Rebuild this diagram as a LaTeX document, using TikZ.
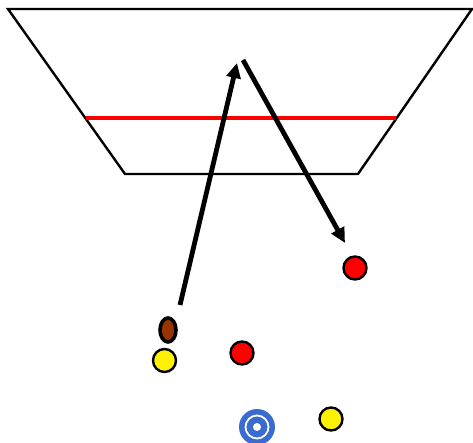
\documentclass[tikz,border=0pt]{standalone}
\usetikzlibrary{arrows.meta,shapes.geometric}
\definecolor{brownball}{HTML}{993300}
\definecolor{targetblue}{HTML}{3A6BD0}
\begin{document}
\begin{tikzpicture}[x=1pt,y=-1pt,
  outline/.style={draw=black,line width=2.4pt,line join=miter},
  move/.style={line width=4.8pt,-{Triangle[length=15pt,width=14pt]}},
  disc/.style={circle,draw=black,line width=2.4pt,minimum size=23pt,inner sep=0pt},
  reddisc/.style={disc,fill=red},
  yellowdisc/.style={disc,fill=yellow}]
\useasboundingbox (0,0) rectangle (473,443);
% trapezoid
\coordinate (tl) at (8,9);
\coordinate (tr) at (472,9);
\coordinate (br) at (358,174);
\coordinate (bl) at (125,174);
\draw[outline] (tl) -- (tr) -- (br) -- (bl) -- cycle;
% red line
\coordinate (rl) at (86,118);
\coordinate (rr) at (396,118);
\draw[red,line width=4.5pt] (rl) -- (rr);
% arrows
\coordinate (a1s) at (180,305);
\coordinate (a1e) at (237,63);
\coordinate (a2s) at (243,60);
\coordinate (a2e) at (345,243);
\draw[move] (a1s) -- (a1e);
\draw[move] (a2s) -- (a2e);
% players
\node[reddisc] (r1) at (355,268) {};
\node[reddisc] (r2) at (242,353) {};
\node[yellowdisc] (y1) at (164.5,360.5) {};
\node[yellowdisc] (y2) at (331,419) {};
\node[ellipse,draw=black,line width=3.6pt,fill=brownball,minimum width=16pt,minimum height=24pt,inner sep=0pt] (ball) at (168,330) {};
% target
\node[circle,fill=targetblue,minimum size=36pt,inner sep=0pt] (tgt) at (257,427) {};
\node[circle,draw=white,line width=1.8pt,minimum size=23pt,inner sep=0pt] (tgtring) at (tgt.center) {};
\node[circle,fill=white,minimum size=8pt,inner sep=0pt] (tgtdot) at (tgt.center) {};
\end{tikzpicture}
\end{document}
